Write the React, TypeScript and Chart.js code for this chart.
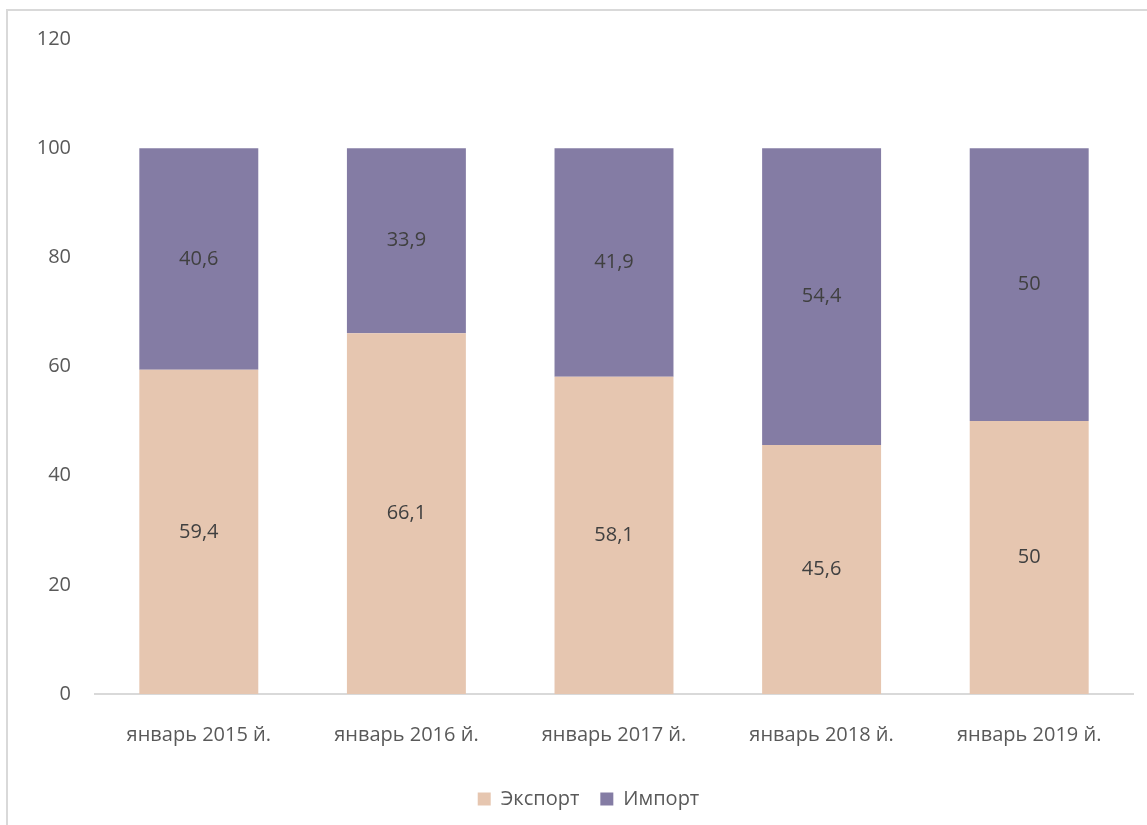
import React, { useEffect, useRef } from "react";
import { Chart, registerables } from "chart.js";

Chart.register(...registerables);

const categories = ["январь 2015 й.", "январь 2016 й.", "январь 2017 й.", "январь 2018 й.", "январь 2019 й."];
const exportValues = [59.4, 66.1, 58.1, 45.6, 50];
const importValues = [40.6, 33.9, 41.9, 54.4, 50];
const seriesNames = ["Экспорт", "Импорт"];
const yTicks = { min: 0, max: 120, step: 20 };

const FONT = "'Open Sans', 'Noto Sans', sans-serif";
const TEXT = "#595959";
const FS = 20;

const fmt = (v: number) => String(v).replace(".", ",");

const dataLabelPlugin = {
  id: "segLabels",
  afterDatasetsDraw(chart: any) {
    const ctx = chart.ctx;
    ctx.save();
    ctx.font = `${FS}px ${FONT}`;
    ctx.fillStyle = "#404040";
    ctx.textAlign = "center";
    ctx.textBaseline = "middle";
    chart.data.datasets.forEach((ds: any, di: number) => {
      const meta = chart.getDatasetMeta(di);
      meta.data.forEach((bar: any, i: number) => {
        const p = bar.getProps(["x", "y", "base"], true);
        ctx.fillText(fmt(ds.data[i]), p.x, (p.y + p.base) / 2);
      });
    });
    ctx.restore();
  },
};

const legendShiftPlugin = {
  id: "legendShift",
  afterLayout(chart: any) {
    if (chart.legend) chart.legend.left = 44;
  },
};

export default function App() {
  const ref = useRef<HTMLCanvasElement>(null);
  useEffect(() => {
    if (!ref.current) return;
    const chart = new Chart(ref.current, {
      type: "bar",
      data: {
        labels: categories,
        datasets: [
          { label: seriesNames[0], data: exportValues, backgroundColor: "#E6C6B0" },
          { label: seriesNames[1], data: importValues, backgroundColor: "#847CA4" },
        ],
      },
      options: {
        animation: false,
        responsive: false,
        maintainAspectRatio: false,
        layout: { padding: { left: 0, right: 14, top: 39, bottom: 6 } },
        datasets: { bar: { categoryPercentage: 1, barPercentage: 0.573 } },
        plugins: {
          legend: {
            position: "bottom",
            labels: {
              font: { family: FONT, size: FS },
              color: TEXT,
              boxWidth: 13,
              boxHeight: 13,
              padding: 21,
            },
          },
          tooltip: { enabled: false },
        },
        scales: {
          x: {
            stacked: true,
            grid: { display: false, drawTicks: false },
            border: { display: true, color: "#D9D9D9", width: 2 },
            ticks: { font: { family: FONT, size: FS }, color: TEXT, padding: 29 },
            afterFit: (s: any) => { s.height = s.height - 8; },
          },
          y: {
            stacked: true,
            min: yTicks.min,
            max: yTicks.max,
            grid: { display: false, drawTicks: false },
            border: { display: false },
            ticks: { stepSize: yTicks.step, font: { family: FONT, size: FS }, color: TEXT, padding: 24 },
            afterFit: (s: any) => { s.width = 95; },
          },
        },
      },
      plugins: [dataLabelPlugin, legendShiftPlugin],
    });
    return () => chart.destroy();
  }, []);
  return (
    <div style={{ position: "absolute", left: 0, top: 0, width: 1147, height: 825, overflow: "hidden", background: "#fff" }}>
      <div style={{ position: "absolute", left: 6, top: 9, width: 1160, height: 840, border: "2px solid #D9D9D9", boxSizing: "border-box" }} />
      <canvas ref={ref} width={1147} height={825} style={{ position: "absolute", left: 0, top: 0 }} />
    </div>
  );
}
